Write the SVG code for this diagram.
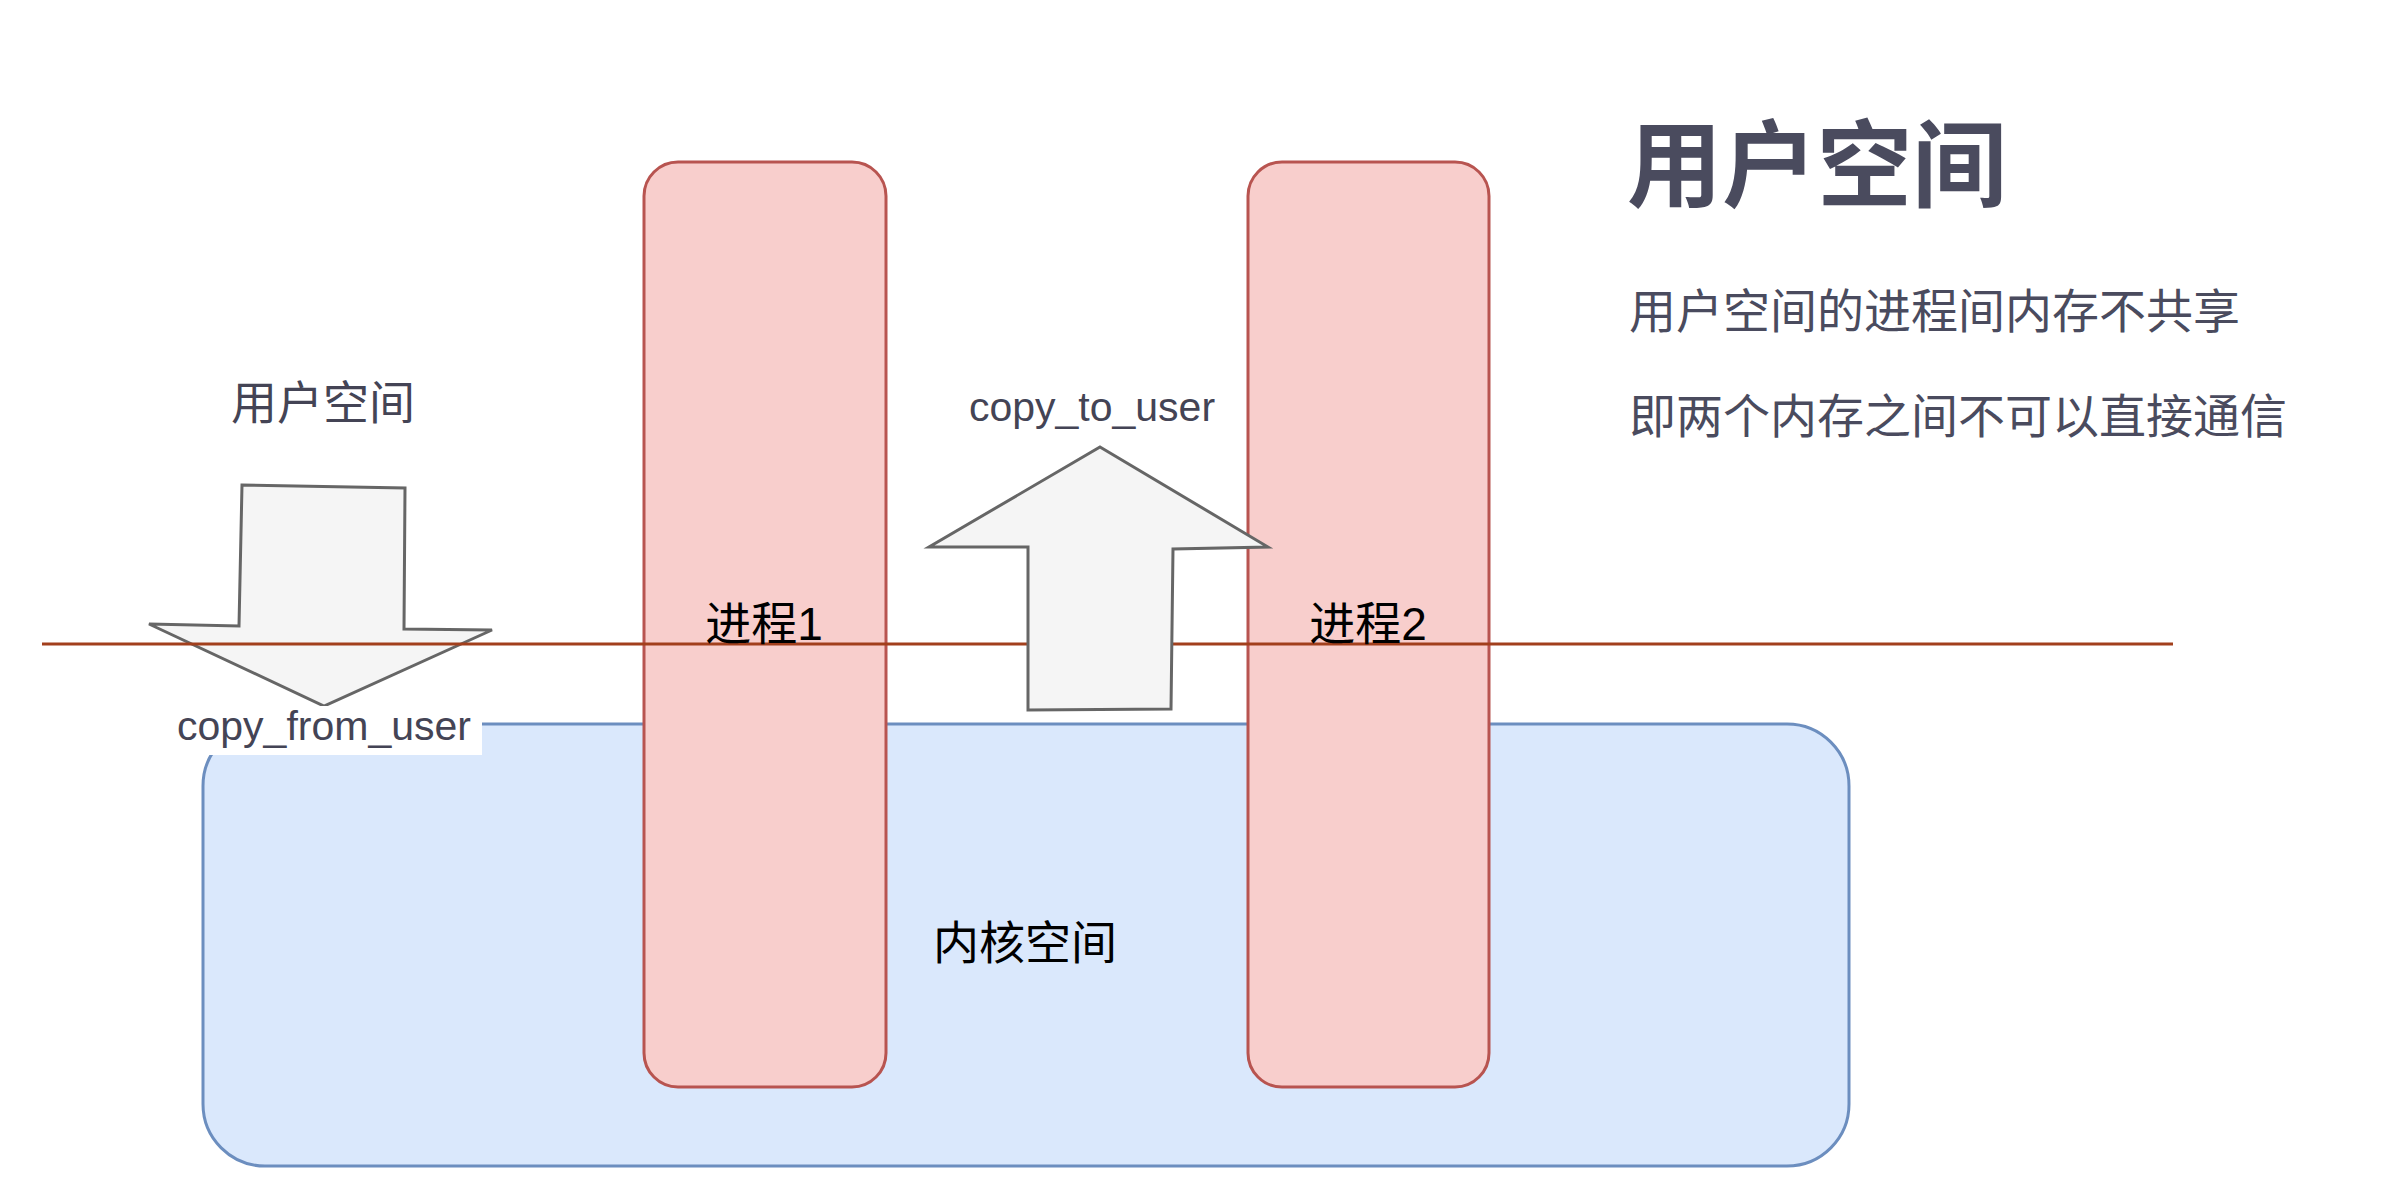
<svg xmlns="http://www.w3.org/2000/svg" width="2404" height="1204" viewBox="0 0 2404 1204">
<style>
.proc{fill:#f8cecc;stroke:#b85450;stroke-width:3}
.arr{fill:#f5f5f5;stroke:#666666;stroke-width:3;stroke-linejoin:miter}
.t{font-family:"Liberation Sans","Noto Sans CJK SC",sans-serif;text-anchor:middle}
.cn{font-family:"Noto Sans CJK SC",sans-serif}
</style>
<rect width="2404" height="1204" fill="#ffffff"/>
<g id="kernel"><rect x="203" y="724" width="1646" height="442" rx="62" fill="#dae8fc" stroke="#6c8ebf" stroke-width="3"/></g>
<g id="proc1"><rect class="proc" x="644" y="162" width="242" height="925" rx="34"/></g>
<g id="proc2"><rect class="proc" x="1248" y="162" width="241" height="925" rx="34"/></g>
<g id="connectors">
<polygon id="downArrow" class="arr" points="242,485 405,488 404,629 492,630 324,706 149,624 239,626"/>
<line x1="42" y1="644" x2="2173" y2="644" stroke="#a23f1c" stroke-width="3"/>
<polygon id="upArrow" class="arr" points="1100,447 1268,547 1173,549 1171,709 1028,710 1028,547 929,547"/>
</g>
<g id="labels">
<text class="t" x="764" y="640" font-size="46" fill="#000">进程1</text>
<text class="t" x="1368" y="640" font-size="46" fill="#000">进程2</text>
<text class="t" x="1025" y="959" font-size="46" fill="#000">内核空间</text>
<text class="t" x="323" y="419" font-size="46" fill="#444455">用户空间</text>
<text class="t" x="1092" y="421" font-size="41" fill="#444455">copy_to_user</text>
<rect x="165" y="706" width="317" height="49" fill="#ffffff"/>
<text class="t" x="324" y="740" font-size="41" fill="#444455">copy_from_user</text>
</g>
<g id="title">
<text class="cn" x="1627" y="200" font-size="95" font-weight="bold" fill="#4a4b5e">用户空间</text>
<text class="cn" x="1629" y="328" font-size="47" fill="#4a4b5e">用户空间的进程间内存不共享</text>
<text class="cn" x="1629" y="433" font-size="47" fill="#4a4b5e">即两个内存之间不可以直接通信</text>
</g>
</svg>
